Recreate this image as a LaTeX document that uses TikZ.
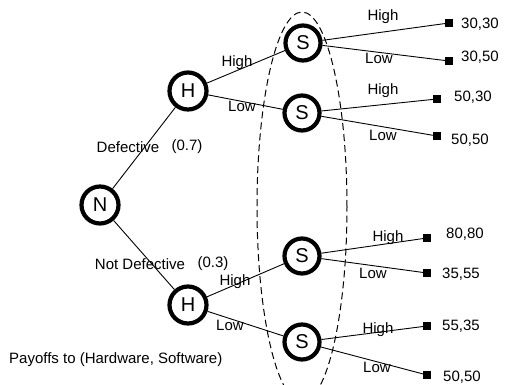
\documentclass[tikz,border=0pt]{standalone}
\usepackage{fontspec}
\setmainfont{Liberation Sans}
\begin{document}
\begin{tikzpicture}[x=1pt,y=-1pt,
  chance/.style={circle,draw,line width=4.2pt,fill=white,minimum size=37pt,inner sep=0pt,font=\fontsize{20}{24}\selectfont},
  snode/.style={chance,minimum size=35pt},
  term/.style={fill=black,minimum size=8pt,inner sep=0pt},
  lbl/.style={font=\fontsize{15}{18}\selectfont,inner sep=0pt},
  edge/.style={line width=0.9pt}]
\useasboundingbox (0,0) rectangle (507,385);
\begin{scope}
\clip (0,0) rectangle (507,385);
\draw[dash pattern=on 7pt off 4pt, line width=1pt] (302,207) ellipse [x radius=45pt, y radius=195pt];
\end{scope}
% decision / chance nodes
\node[chance] (N) at (100,205) {N};
\node[chance] (H1) at (188,91) {H};
\node[chance] (H2) at (188,305) {H};
\node[snode] (S1) at (303,43) {S};
\node[snode] (S2) at (302,113) {S};
\node[snode] (S3) at (302,256) {S};
\node[snode] (S4) at (302,342) {S};
% terminals
\node[term] (t1) at (449,23) {};
\node[term] (t2) at (449,61) {};
\node[term] (t3) at (437,99) {};
\node[term] (t4) at (437,136) {};
\node[term] (t5) at (427,238) {};
\node[term] (t6) at (427,273) {};
\node[term] (t7) at (427,326) {};
\node[term] (t8) at (427,375) {};
% edges
\draw[edge] (N) -- (H1);
\draw[edge] (N) -- (H2);
\draw[edge] (H1) -- (S1);
\draw[edge] (H1) -- (S2);
\draw[edge] (H2) -- (S3);
\draw[edge] (H2) -- (S4);
\draw[edge] (S1) -- (t1);
\draw[edge] (S1) -- (t2);
\draw[edge] (S2) -- (t3);
\draw[edge] (S2) -- (t4);
\draw[edge] (S3) -- (t5);
\draw[edge] (S3) -- (t6);
\draw[edge] (S4) -- (t7);
\draw[edge] (S4) -- (t8);
% payoffs
\node[lbl] (p1) at (480,24) {30,30};
\node[lbl] (p2) at (480,57) {30,50};
\node[lbl] (p3) at (473,97) {50,30};
\node[lbl] (p4) at (470,140) {50,50};
\node[lbl] (p5) at (465,234) {80,80};
\node[lbl] (p6) at (461,274) {35,55};
\node[lbl] (p7) at (461,326) {55,35};
\node[lbl] (p8) at (462,377) {50,50};
% edge labels
\node[lbl] (l1) at (383,17) {High};
\node[lbl] (l2) at (379,58) {Low};
\node[lbl] (l3) at (383,91) {High};
\node[lbl] (l4) at (383,135) {Low};
\node[lbl] (l5) at (388,238) {High};
\node[lbl] (l6) at (373,273) {Low};
\node[lbl] (l7) at (378,330) {High};
\node[lbl] (l8) at (377,367) {Low};
\node[lbl] (l9) at (237,63) {High};
\node[lbl] (l10) at (242,106) {Low};
\node[lbl] (l11) at (235,282) {High};
\node[lbl] (l12) at (230,325) {Low};
\node[lbl] (d1) at (128,147) {Defective};
\node[lbl] (d2) at (187,147) {(0.7)};
\node[lbl] (d3) at (140,264) {Not Defective};
\node[lbl] (d4) at (213,264) {(0.3)};
\node[lbl,anchor=west] (pay) at (9,360) {Payoffs to (Hardware, Software)};
\end{tikzpicture}
\end{document}
